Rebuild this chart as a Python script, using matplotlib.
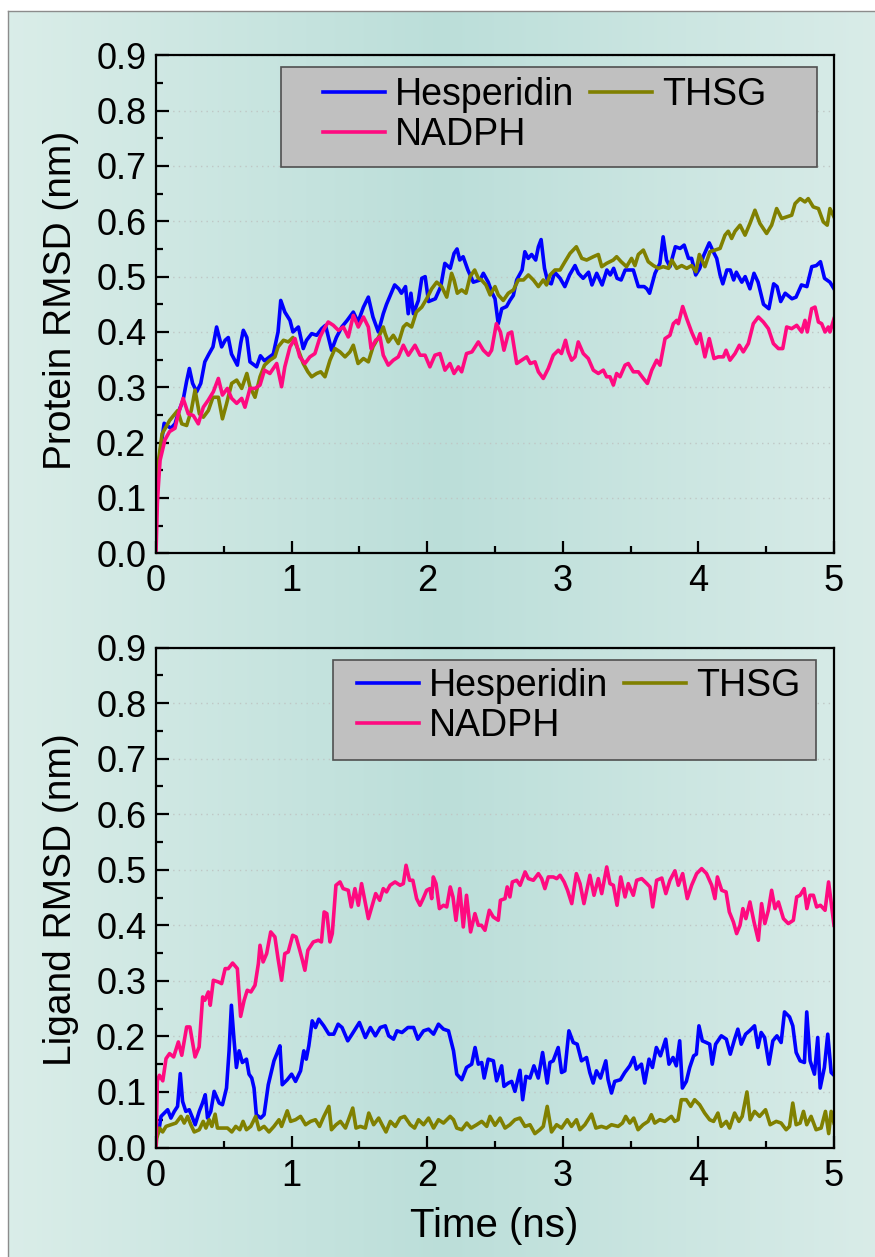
import numpy as np
import matplotlib
matplotlib.use("Agg")
import matplotlib.pyplot as plt
from matplotlib.patches import Rectangle

plt.rcParams['font.family'] = ['Liberation Sans', 'DejaVu Sans']

# ---------------- data (time ns, RMSD nm) ----------------
series_names = ["Hesperidin", "THSG", "NADPH"]
series_colors = ["#0000ff", "#808000", "#ff0a80"]
x_ticks = [0, 1, 2, 3, 4, 5]
y_ticks = [0.0, 0.1, 0.2, 0.3, 0.4, 0.5, 0.6, 0.7, 0.8, 0.9]

protein_hesperidin = [(0.00,0.12),(0.02,0.16),(0.04,0.20),(0.06,0.235),(0.08,0.231),(0.11,0.226),(0.14,0.234),(0.17,0.258),(0.20,0.277),(0.225,0.31),(0.246,0.334),(0.27,0.307),(0.30,0.292),(0.33,0.307),(0.36,0.346),(0.39,0.36),(0.42,0.373),(0.447,0.409),(0.484,0.373),(0.51,0.385),(0.533,0.39),(0.557,0.36),(0.60,0.34),(0.625,0.38),(0.644,0.403),(0.67,0.39),(0.693,0.346),(0.742,0.337),(0.77,0.357),(0.80,0.348),(0.865,0.36),(0.90,0.40),(0.92,0.457),(0.95,0.436),(0.988,0.421),(1.01,0.40),(1.05,0.409),(1.086,0.37),(1.11,0.385),(1.148,0.397),(1.185,0.394),(1.222,0.406),(1.25,0.412),(1.295,0.367),(1.33,0.39),(1.37,0.409),(1.41,0.421),(1.455,0.436),(1.49,0.418),(1.53,0.445),(1.566,0.463),(1.60,0.427),(1.64,0.40),(1.676,0.433),(1.70,0.45),(1.76,0.485),(1.79,0.478),(1.81,0.47),(1.84,0.482),(1.86,0.433),(1.88,0.47),(1.898,0.433),(1.935,0.457),(1.96,0.497),(1.985,0.50),(2.01,0.455),(2.06,0.46),(2.10,0.482),(2.13,0.524),(2.17,0.515),(2.198,0.542),(2.22,0.55),(2.24,0.53),(2.265,0.536),(2.30,0.512),(2.34,0.49),(2.39,0.494),(2.414,0.506),(2.45,0.49),(2.48,0.47),(2.50,0.46),(2.524,0.415),(2.55,0.442),(2.585,0.446),(2.61,0.457),(2.635,0.466),(2.66,0.494),(2.70,0.512),(2.72,0.545),(2.745,0.533),(2.77,0.54),(2.80,0.53),(2.82,0.554),(2.84,0.567),(2.865,0.515),(2.89,0.49),(2.915,0.487),(2.94,0.508),(2.98,0.497),(3.015,0.482),(3.05,0.503),(3.09,0.52),(3.115,0.506),(3.15,0.497),(3.19,0.508),(3.215,0.485),(3.25,0.506),(3.29,0.485),(3.325,0.512),(3.35,0.503),(3.375,0.515),(3.40,0.497),(3.43,0.494),(3.46,0.512),(3.52,0.512),(3.557,0.482),(3.60,0.482),(3.62,0.478),(3.64,0.47),(3.68,0.506),(3.716,0.524),(3.74,0.572),(3.765,0.53),(3.79,0.518),(3.83,0.554),(3.865,0.551),(3.895,0.557),(3.927,0.533),(3.95,0.533),(3.98,0.503),(4.01,0.515),(4.035,0.536),(4.08,0.561),(4.11,0.545),(4.135,0.533),(4.16,0.503),(4.18,0.487),(4.21,0.512),(4.235,0.512),(4.26,0.494),(4.28,0.508),(4.32,0.49),(4.345,0.50),(4.38,0.478),(4.41,0.506),(4.44,0.49),(4.48,0.45),(4.52,0.442),(4.555,0.487),(4.58,0.482),(4.607,0.455),(4.64,0.47),(4.69,0.46),(4.72,0.463),(4.76,0.485),(4.80,0.482),(4.836,0.518),(4.87,0.52),(4.90,0.527),(4.93,0.497),(4.97,0.49),(5.00,0.478)]

protein_thsg = [(0.00,0.10),(0.02,0.17),(0.045,0.216),(0.066,0.225),(0.10,0.24),(0.14,0.252),(0.16,0.258),(0.19,0.234),(0.226,0.231),(0.26,0.258),(0.288,0.295),(0.32,0.252),(0.349,0.246),(0.386,0.258),(0.42,0.282),(0.46,0.282),(0.49,0.243),(0.52,0.27),(0.558,0.307),(0.595,0.313),(0.632,0.298),(0.67,0.325),(0.693,0.301),(0.73,0.282),(0.767,0.319),(0.80,0.34),(0.84,0.349),(0.877,0.355),(0.90,0.373),(0.94,0.385),(0.976,0.382),(1.01,0.39),(1.05,0.367),(1.086,0.343),(1.12,0.328),(1.148,0.319),(1.185,0.325),(1.215,0.328),(1.246,0.319),(1.283,0.349),(1.32,0.37),(1.357,0.364),(1.394,0.355),(1.43,0.364),(1.455,0.376),(1.49,0.343),(1.53,0.352),(1.566,0.346),(1.60,0.373),(1.64,0.39),(1.676,0.409),(1.69,0.397),(1.713,0.382),(1.75,0.394),(1.787,0.379),(1.824,0.409),(1.849,0.415),(1.885,0.409),(1.92,0.436),(1.96,0.445),(1.996,0.46),(2.033,0.478),(2.07,0.49),(2.107,0.482),(2.144,0.463),(2.18,0.506),(2.198,0.494),(2.222,0.47),(2.254,0.476),(2.286,0.47),(2.316,0.50),(2.35,0.512),(2.377,0.497),(2.40,0.494),(2.433,0.485),(2.464,0.467),(2.50,0.482),(2.524,0.467),(2.561,0.457),(2.598,0.47),(2.636,0.476),(2.672,0.494),(2.71,0.494),(2.746,0.503),(2.783,0.494),(2.82,0.482),(2.856,0.494),(2.88,0.485),(2.906,0.503),(2.942,0.512),(2.98,0.512),(3.016,0.527),(3.053,0.542),(3.10,0.554),(3.14,0.533),(3.176,0.53),(3.225,0.536),(3.262,0.54),(3.287,0.518),(3.323,0.524),(3.372,0.53),(3.397,0.536),(3.43,0.527),(3.47,0.518),(3.507,0.533),(3.532,0.52),(3.557,0.54),(3.594,0.548),(3.63,0.527),(3.668,0.52),(3.705,0.515),(3.741,0.518),(3.78,0.515),(3.803,0.53),(3.84,0.515),(3.877,0.52),(3.914,0.515),(3.95,0.52),(3.982,0.509),(4.007,0.54),(4.048,0.518),(4.085,0.545),(4.122,0.548),(4.16,0.551),(4.196,0.575),(4.22,0.582),(4.245,0.569),(4.27,0.582),(4.307,0.593),(4.344,0.575),(4.38,0.596),(4.417,0.62),(4.454,0.596),(4.503,0.578),(4.54,0.593),(4.577,0.623),(4.614,0.605),(4.65,0.608),(4.688,0.611),(4.713,0.632),(4.75,0.641),(4.786,0.635),(4.81,0.641),(4.847,0.626),(4.885,0.623),(4.921,0.599),(4.95,0.593),(4.97,0.623),(5.00,0.608)]

protein_nadph = [(0.00,0.00),(0.01,0.09),(0.017,0.12),(0.03,0.168),(0.066,0.205),(0.10,0.22),(0.14,0.226),(0.165,0.252),(0.20,0.28),(0.238,0.252),(0.275,0.249),(0.312,0.234),(0.349,0.264),(0.386,0.277),(0.423,0.292),(0.46,0.316),(0.49,0.286),(0.526,0.298),(0.558,0.28),(0.595,0.271),(0.632,0.28),(0.656,0.264),(0.693,0.298),(0.73,0.298),(0.767,0.304),(0.80,0.331),(0.84,0.325),(0.865,0.334),(0.89,0.343),(0.926,0.301),(0.95,0.337),(0.988,0.373),(1.025,0.388),(1.06,0.355),(1.098,0.343),(1.135,0.355),(1.172,0.361),(1.21,0.391),(1.234,0.403),(1.27,0.418),(1.308,0.412),(1.345,0.403),(1.382,0.409),(1.418,0.391),(1.455,0.43),(1.492,0.409),(1.53,0.427),(1.566,0.409),(1.586,0.37),(1.62,0.385),(1.652,0.391),(1.676,0.358),(1.713,0.34),(1.75,0.349),(1.787,0.355),(1.824,0.376),(1.861,0.358),(1.91,0.376),(1.947,0.358),(1.984,0.358),(2.02,0.337),(2.057,0.358),(2.094,0.361),(2.131,0.331),(2.168,0.343),(2.198,0.325),(2.23,0.337),(2.254,0.328),(2.29,0.361),(2.33,0.364),(2.377,0.382),(2.414,0.367),(2.452,0.358),(2.475,0.367),(2.51,0.415),(2.54,0.40),(2.566,0.367),(2.598,0.397),(2.623,0.40),(2.66,0.343),(2.697,0.349),(2.734,0.355),(2.76,0.343),(2.795,0.346),(2.82,0.328),(2.856,0.316),(2.893,0.334),(2.93,0.358),(2.967,0.367),(2.99,0.361),(3.02,0.385),(3.04,0.364),(3.065,0.349),(3.09,0.355),(3.114,0.382),(3.151,0.361),(3.188,0.352),(3.225,0.331),(3.262,0.325),(3.299,0.331),(3.323,0.319),(3.348,0.319),(3.373,0.304),(3.397,0.325),(3.422,0.319),(3.459,0.34),(3.483,0.343),(3.52,0.328),(3.557,0.328),(3.594,0.316),(3.624,0.307),(3.656,0.331),(3.692,0.349),(3.717,0.34),(3.754,0.388),(3.79,0.394),(3.815,0.415),(3.84,0.421),(3.852,0.415),(3.884,0.446),(3.914,0.424),(3.95,0.40),(3.987,0.379),(4.012,0.397),(4.048,0.355),(4.08,0.388),(4.115,0.352),(4.147,0.355),(4.184,0.355),(4.204,0.367),(4.233,0.349),(4.27,0.361),(4.302,0.376),(4.331,0.364),(4.368,0.379),(4.405,0.415),(4.442,0.427),(4.479,0.418),(4.516,0.406),(4.553,0.379),(4.59,0.37),(4.622,0.37),(4.651,0.409),(4.688,0.406),(4.725,0.412),(4.762,0.40),(4.786,0.421),(4.803,0.40),(4.835,0.442),(4.86,0.445),(4.885,0.418),(4.909,0.415),(4.934,0.40),(4.958,0.409),(4.97,0.40),(5.00,0.424)]

ligand_hesperidin = [(0.00,0.02),(0.02,0.028),(0.037,0.056),(0.061,0.062),(0.086,0.068),(0.11,0.053),(0.135,0.065),(0.159,0.074),(0.179,0.133),(0.196,0.083),(0.22,0.065),(0.245,0.068),(0.27,0.053),(0.289,0.041),(0.319,0.065),(0.343,0.08),(0.363,0.095),(0.38,0.053),(0.404,0.065),(0.429,0.101),(0.466,0.08),(0.49,0.077),(0.52,0.107),(0.539,0.174),(0.556,0.256),(0.576,0.192),(0.593,0.144),(0.613,0.174),(0.637,0.153),(0.667,0.159),(0.686,0.132),(0.706,0.125),(0.723,0.107),(0.74,0.059),(0.772,0.053),(0.797,0.059),(0.828,0.113),(0.87,0.156),(0.895,0.171),(0.914,0.183),(0.931,0.113),(0.968,0.122),(1.00,0.132),(1.029,0.119),(1.066,0.138),(1.09,0.174),(1.108,0.159),(1.127,0.183),(1.152,0.228),(1.176,0.216),(1.20,0.231),(1.237,0.219),(1.275,0.204),(1.311,0.204),(1.343,0.222),(1.372,0.216),(1.414,0.192),(1.446,0.204),(1.50,0.225),(1.544,0.198),(1.581,0.216),(1.618,0.201),(1.654,0.216),(1.691,0.219),(1.716,0.201),(1.752,0.195),(1.777,0.21),(1.814,0.207),(1.858,0.216),(1.90,0.216),(1.931,0.195),(1.973,0.21),(2.01,0.213),(2.047,0.204),(2.083,0.222),(2.12,0.213),(2.157,0.21),(2.194,0.174),(2.218,0.132),(2.255,0.122),(2.29,0.144),(2.328,0.15),(2.353,0.18),(2.377,0.15),(2.402,0.153),(2.42,0.125),(2.45,0.159),(2.488,0.156),(2.512,0.12),(2.549,0.147),(2.566,0.11),(2.598,0.116),(2.623,0.119),(2.647,0.101),(2.684,0.139),(2.704,0.086),(2.728,0.128),(2.758,0.125),(2.787,0.147),(2.819,0.125),(2.851,0.171),(2.885,0.116),(2.905,0.153),(2.929,0.156),(2.966,0.18),(2.991,0.135),(3.015,0.138),(3.045,0.21),(3.077,0.189),(3.106,0.186),(3.138,0.156),(3.175,0.162),(3.199,0.135),(3.224,0.116),(3.248,0.138),(3.278,0.125),(3.317,0.156),(3.334,0.122),(3.359,0.098),(3.383,0.119),(3.425,0.122),(3.457,0.135),(3.494,0.147),(3.523,0.162),(3.543,0.141),(3.58,0.15),(3.604,0.116),(3.636,0.159),(3.661,0.144),(3.69,0.18),(3.72,0.165),(3.759,0.195),(3.783,0.15),(3.813,0.162),(3.837,0.147),(3.862,0.192),(3.882,0.107),(3.911,0.119),(3.936,0.144),(3.965,0.165),(3.985,0.168),(4.004,0.219),(4.029,0.192),(4.058,0.189),(4.083,0.186),(4.102,0.15),(4.127,0.186),(4.169,0.201),(4.206,0.195),(4.235,0.168),(4.267,0.195),(4.291,0.213),(4.316,0.186),(4.348,0.204),(4.377,0.21),(4.414,0.219),(4.439,0.18),(4.463,0.207),(4.488,0.198),(4.52,0.15),(4.549,0.192),(4.579,0.201),(4.61,0.189),(4.635,0.244),(4.672,0.235),(4.696,0.219),(4.721,0.171),(4.75,0.156),(4.782,0.153),(4.799,0.244),(4.824,0.156),(4.856,0.132),(4.88,0.198),(4.898,0.107),(4.929,0.144),(4.954,0.204),(4.979,0.135),(5.00,0.13)]

ligand_thsg = [(0.00,0.00),(0.005,0.016),(0.025,0.035),(0.049,0.028),(0.074,0.038),(0.11,0.041),(0.147,0.044),(0.184,0.056),(0.208,0.044),(0.233,0.056),(0.257,0.041),(0.282,0.028),(0.319,0.032),(0.348,0.047),(0.368,0.035),(0.392,0.05),(0.412,0.038),(0.436,0.06),(0.453,0.035),(0.49,0.035),(0.527,0.035),(0.559,0.028),(0.588,0.038),(0.618,0.032),(0.642,0.047),(0.667,0.032),(0.699,0.038),(0.735,0.056),(0.76,0.032),(0.797,0.038),(0.833,0.028),(0.87,0.038),(0.907,0.05),(0.926,0.038),(0.968,0.066),(0.993,0.047),(1.029,0.05),(1.066,0.056),(1.103,0.041),(1.14,0.047),(1.176,0.05),(1.206,0.038),(1.238,0.056),(1.275,0.074),(1.294,0.032),(1.328,0.041),(1.36,0.047),(1.397,0.035),(1.451,0.071),(1.475,0.035),(1.507,0.038),(1.544,0.035),(1.569,0.062),(1.605,0.041),(1.642,0.053),(1.667,0.041),(1.696,0.028),(1.728,0.047),(1.765,0.038),(1.801,0.053),(1.833,0.056),(1.875,0.041),(1.907,0.035),(1.936,0.05),(1.973,0.041),(2.01,0.053),(2.047,0.035),(2.083,0.05),(2.12,0.044),(2.169,0.056),(2.194,0.05),(2.218,0.035),(2.255,0.032),(2.292,0.044),(2.324,0.035),(2.365,0.041),(2.402,0.047),(2.439,0.038),(2.463,0.056),(2.50,0.04),(2.537,0.053),(2.574,0.035),(2.61,0.041),(2.647,0.05),(2.684,0.053),(2.721,0.038),(2.758,0.041),(2.794,0.025),(2.831,0.032),(2.856,0.038),(2.885,0.074),(2.917,0.028),(2.954,0.041),(2.991,0.035),(3.033,0.05),(3.064,0.038),(3.101,0.05),(3.126,0.032),(3.163,0.041),(3.212,0.06),(3.244,0.035),(3.285,0.038),(3.322,0.035),(3.359,0.041),(3.408,0.038),(3.44,0.044),(3.464,0.056),(3.494,0.044),(3.523,0.053),(3.555,0.032),(3.592,0.041),(3.629,0.047),(3.653,0.059),(3.678,0.044),(3.715,0.05),(3.752,0.047),(3.801,0.056),(3.825,0.047),(3.85,0.05),(3.874,0.086),(3.911,0.086),(3.943,0.074),(3.972,0.086),(4.009,0.077),(4.046,0.062),(4.083,0.05),(4.112,0.047),(4.144,0.062),(4.169,0.038),(4.206,0.047),(4.23,0.035),(4.267,0.062),(4.299,0.047),(4.323,0.056),(4.358,0.10),(4.382,0.05),(4.414,0.065),(4.451,0.056),(4.495,0.068),(4.529,0.041),(4.574,0.047),(4.61,0.044),(4.647,0.032),(4.672,0.038),(4.696,0.08),(4.721,0.041),(4.75,0.044),(4.775,0.065),(4.799,0.041),(4.831,0.056),(4.868,0.032),(4.905,0.035),(4.937,0.065),(4.961,0.025),(4.979,0.065),(5.00,0.044)]

ligand_nadph = [(0.00,0.00),(0.01,0.12),(0.025,0.13),(0.05,0.12),(0.074,0.16),(0.10,0.169),(0.13,0.163),(0.165,0.19),(0.19,0.166),(0.226,0.217),(0.25,0.217),(0.288,0.163),(0.318,0.181),(0.344,0.271),(0.36,0.265),(0.386,0.28),(0.40,0.256),(0.423,0.301),(0.46,0.298),(0.484,0.295),(0.51,0.322),(0.533,0.322),(0.565,0.332),(0.60,0.322),(0.624,0.236),(0.65,0.265),(0.673,0.283),(0.70,0.28),(0.73,0.292),(0.755,0.331),(0.767,0.364),(0.79,0.334),(0.816,0.349),(0.846,0.388),(0.877,0.379),(0.90,0.34),(0.926,0.301),(0.95,0.349),(0.975,0.352),(1.008,0.382),(1.033,0.379),(1.057,0.358),(1.08,0.337),(1.098,0.319),(1.12,0.355),(1.16,0.37),(1.197,0.373),(1.22,0.37),(1.24,0.424),(1.26,0.421),(1.283,0.37),(1.30,0.385),(1.327,0.472),(1.357,0.478),(1.38,0.466),(1.418,0.463),(1.44,0.433),(1.467,0.466),(1.492,0.436),(1.516,0.475),(1.54,0.445),(1.566,0.412),(1.598,0.439),(1.62,0.457),(1.65,0.445),(1.676,0.466),(1.70,0.46),(1.726,0.472),(1.763,0.478),(1.80,0.472),(1.824,0.475),(1.844,0.508),(1.87,0.481),(1.894,0.481),(1.922,0.448),(1.947,0.436),(1.97,0.448),(1.996,0.463),(2.02,0.466),(2.033,0.448),(2.045,0.487),(2.065,0.475),(2.09,0.43),(2.12,0.436),(2.144,0.433),(2.17,0.469),(2.19,0.451),(2.212,0.409),(2.24,0.466),(2.266,0.397),(2.29,0.454),(2.32,0.388),(2.352,0.421),(2.377,0.40),(2.40,0.40),(2.426,0.391),(2.458,0.427),(2.487,0.415),(2.524,0.409),(2.54,0.445),(2.574,0.448),(2.59,0.469),(2.61,0.451),(2.628,0.478),(2.66,0.481),(2.685,0.472),(2.722,0.496),(2.746,0.484),(2.783,0.481),(2.82,0.493),(2.844,0.484),(2.868,0.466),(2.893,0.487),(2.93,0.487),(2.955,0.484),(2.98,0.49),(3.01,0.478),(3.035,0.463),(3.066,0.439),(3.10,0.493),(3.127,0.475),(3.156,0.439),(3.20,0.49),(3.23,0.454),(3.262,0.484),(3.287,0.457),(3.324,0.505),(3.348,0.475),(3.373,0.472),(3.40,0.436),(3.427,0.487),(3.459,0.451),(3.483,0.475),(3.52,0.454),(3.545,0.481),(3.582,0.484),(3.62,0.475),(3.643,0.469),(3.663,0.433),(3.692,0.481),(3.73,0.485),(3.76,0.457),(3.79,0.481),(3.827,0.498),(3.852,0.472),(3.884,0.493),(3.918,0.448),(3.95,0.472),(3.987,0.493),(4.024,0.502),(4.06,0.493),(4.098,0.472),(4.122,0.448),(4.14,0.487),(4.172,0.463),(4.204,0.46),(4.228,0.424),(4.258,0.406),(4.282,0.385),(4.307,0.40),(4.328,0.43),(4.35,0.412),(4.38,0.442),(4.41,0.406),(4.442,0.373),(4.466,0.439),(4.49,0.403),(4.516,0.427),(4.54,0.463),(4.565,0.43),(4.59,0.442),(4.627,0.412),(4.663,0.403),(4.70,0.409),(4.725,0.451),(4.75,0.454),(4.78,0.466),(4.80,0.43),(4.823,0.454),(4.848,0.454),(4.872,0.433),(4.90,0.436),(4.934,0.427),(4.96,0.478),(5.00,0.40)]

panel_ylabels = ["Protein RMSD (nm)", "Ligand RMSD (nm)"]
x_label = "Time (ns)"

# ---------------- figure ----------------
W, H = 875, 1257
fig = plt.figure(figsize=(W / 100, H / 100), dpi=100)
fig.patch.set_facecolor("white")

def fx(px):
    return px / W

def fy(py):
    return 1 - py / H

# background gradient panel with thin grey border
bg = fig.add_axes([fx(8), 0, 1 - fx(8), fy(11)], zorder=-10)
stops = np.array([0.0, 0.5, 1.0])
cols = np.array([[0.855, 0.930, 0.912], [0.735, 0.872, 0.852], [0.850, 0.925, 0.910]])
xs = np.linspace(0, 1, 600)
grad = np.stack([np.interp(xs, stops, cols[:, k]) for k in range(3)], axis=-1)[None, :, :]
bg.imshow(grad, aspect="auto", extent=[0, 1, 0, 1])
bg.set_xticks([]); bg.set_yticks([])
for s in ["right", "bottom"]:
    bg.spines[s].set_visible(False)
for s in ["left", "top"]:
    bg.spines[s].set_color("#8c8c8c"); bg.spines[s].set_linewidth(1.0)

ax_top = fig.add_axes([fx(156), fy(553.3), fx(834) - fx(156), fy(55.3) - fy(553.3)])
ax_bot = fig.add_axes([fx(156), fy(1147.5), fx(834) - fx(156), fy(647.5) - fy(1147.5)])

panels = [
    (ax_top, [protein_hesperidin, protein_thsg, protein_nadph]),
    (ax_bot, [ligand_hesperidin, ligand_thsg, ligand_nadph]),
]

legend_boxes = [
    # box (x0, y0, x1, y1) px, legend anchor (x, y) px
    ((281, 67, 817, 167), (323, 77)),
    ((333, 660, 816, 760), (357, 668)),
]

for i, (ax, data) in enumerate(panels):
    ax.set_facecolor("none")
    lines = []
    for name, color, series in zip(series_names, series_colors, data):
        arr = np.array(series)
        ln, = ax.plot(arr[:, 0], arr[:, 1], color=color, lw=2.6, label=name,
                      solid_joinstyle="round")
        lines.append(ln)
    ax.set_xlim(0, 5)
    ax.set_ylim(0, 0.9)
    ax.set_xticks(x_ticks)
    ax.set_xticks([0.5, 1.5, 2.5, 3.5, 4.5], minor=True)
    ax.set_yticks(y_ticks)
    ax.set_yticks(np.arange(0.05, 0.9, 0.1), minor=True)
    ax.set_yticklabels([f"{v:.1f}" for v in y_ticks])
    ax.tick_params(which="both", direction="in", width=1.6, labelsize=26,
                   top=False, right=False, color="black")
    ax.tick_params(which="major", length=9)
    ax.tick_params(which="minor", length=5)
    ax.tick_params(axis="y", pad=7)
    ax.tick_params(axis="x", pad=8)
    for s in ax.spines.values():
        s.set_linewidth(1.6)
        s.set_color("black")
    ax.yaxis.grid(True, which="major", linestyle=(0, (1, 3)), color="#bfc7c5", lw=1.0)
    ax.set_axisbelow(True)
    ax.set_ylabel(panel_ylabels[i], fontsize=28)
    ax.yaxis.set_label_coords(fx(79), fy(300 if i == 0 else 900), transform=fig.transFigure)

    (bx0, by0, bx1, by1), (lx, ly) = legend_boxes[i]
    rect = Rectangle((fx(bx0), fy(by1)), fx(bx1) - fx(bx0), fy(by0) - fy(by1),
                     transform=fig.transFigure, facecolor="#c0c0c0",
                     edgecolor="#505050", lw=1.2, zorder=4, clip_on=False)
    ax.add_patch(rect)
    order = [lines[0], lines[2], lines[1]]
    leg = ax.legend(order, [l.get_label() for l in order], ncol=2, loc="upper left",
                    bbox_to_anchor=(fx(lx), fy(ly)), bbox_transform=fig.transFigure,
                    frameon=False, borderpad=0, borderaxespad=0, fontsize=27,
                    handlelength=1.65, handletextpad=0.28, columnspacing=0.4,
                    labelspacing=0.1)
    for lh in leg.get_lines():
        lh.set_linewidth(2.6)
    leg.set_zorder(6)

ax_bot.set_xlabel(x_label, fontsize=29)
ax_bot.xaxis.set_label_coords(fx(494), fy(1226), transform=fig.transFigure)
ax_bot.xaxis.label.set_va("center")

fig.savefig("out.png", dpi=100)
